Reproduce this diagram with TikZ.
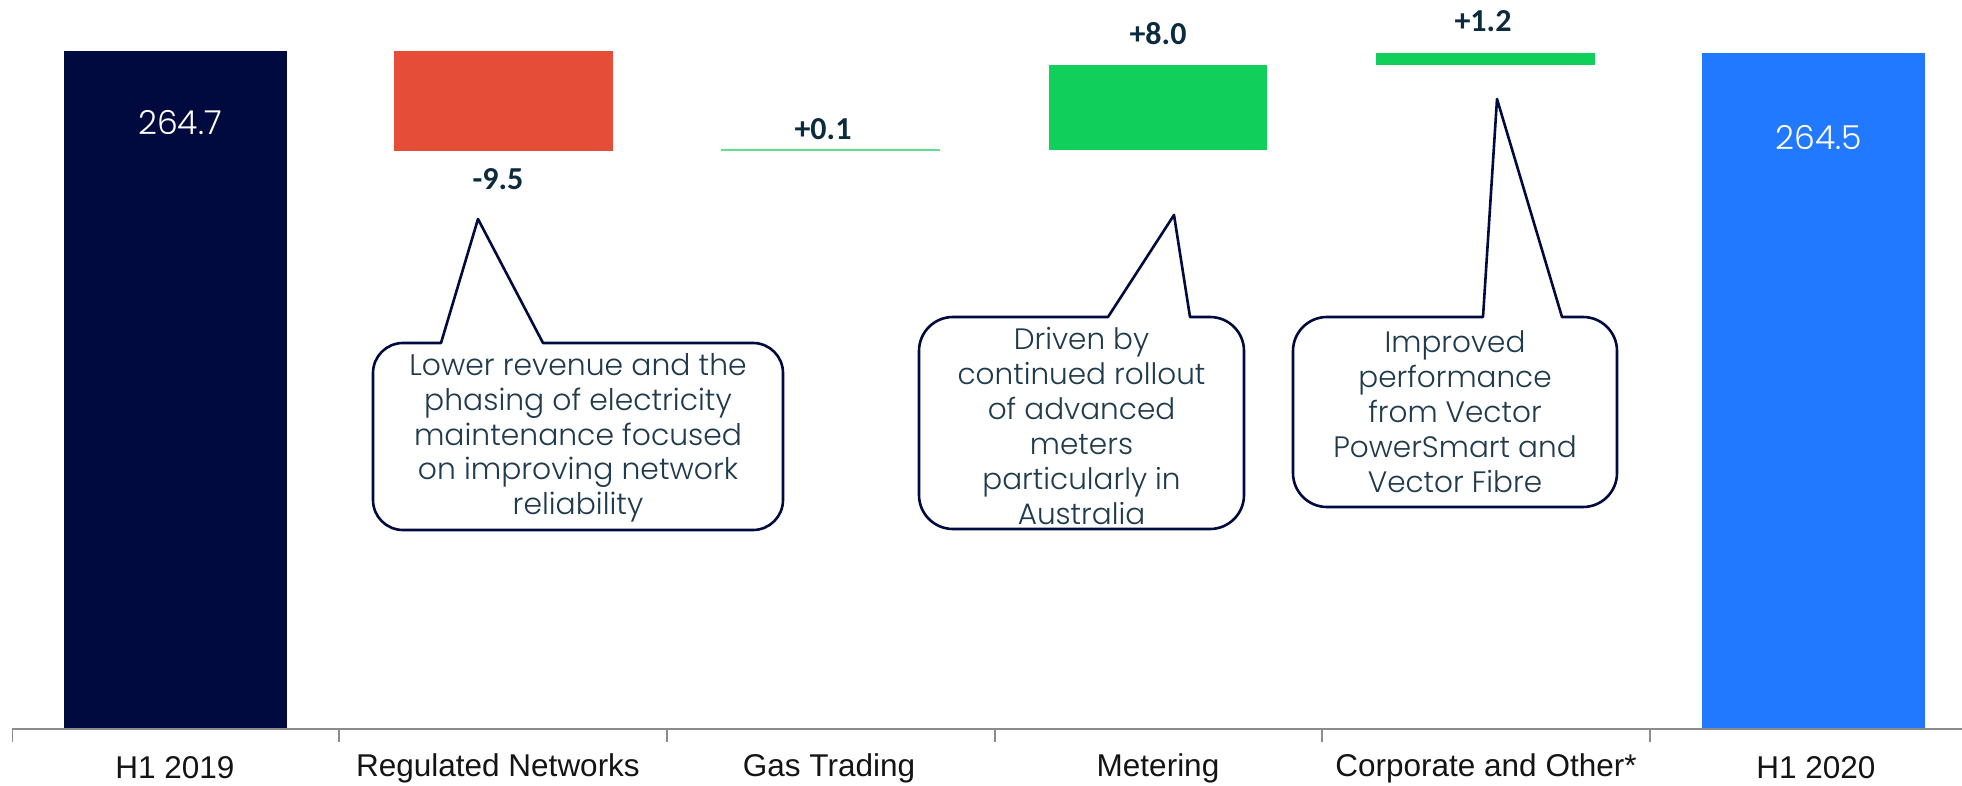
\documentclass[tikz,border=0pt]{standalone}
\usepackage{fontspec}
\setmainfont{Liberation Sans}
\newfontfamily\callfont{Poppins Light}
\newfontfamily\numfont{Carlito}
\definecolor{navy}{HTML}{000A3E}
\definecolor{redbar}{HTML}{E54D39}
\definecolor{greenbar}{HTML}{10D05B}
\definecolor{greenline}{HTML}{5EE08C}
\definecolor{bluebar}{HTML}{2179FF}
\definecolor{numtext}{HTML}{0D2B3E}
\definecolor{calltext}{HTML}{1E3A4C}
\definecolor{axisgray}{HTML}{8C8C8C}
\definecolor{cattext}{HTML}{141414}
\begin{document}
\begin{tikzpicture}[x=1pt,y=-1pt,
  valtext/.style={text=white,font=\callfont\fontsize{33}{36}\selectfont,inner sep=0},
  deltatext/.style={text=numtext,font=\numfont\bfseries\fontsize{32}{34}\selectfont,inner sep=0},
  cattextstyle/.style={text=cattext,font=\fontsize{31.5}{34}\selectfont,inner sep=0},
  calloutline/.style={draw=navy,line width=2.6pt,fill=white,line join=round},
  calltextstyle/.style={text=calltext,align=center,inner sep=0,font=\callfont\fontsize{29.8}{34.8}\selectfont},
  calltextc/.style={text=calltext,align=center,inner sep=0,font=\callfont\fontsize{29.5}{34.9}\selectfont},
  axisline/.style={draw=axisgray,line width=1.8pt},
  tickline/.style={draw=axisgray,line width=1.2pt}]
\useasboundingbox (0,0) rectangle (1962,786);
% bars
\fill[navy] (64,51) rectangle (287,729);
\fill[redbar] (394,51) rectangle (613,151);
\draw[greenline,line width=2pt] (721,150) -- (940,150);
\fill[greenbar] (1049,65) rectangle (1267,150);
\fill[greenbar] (1376,53) rectangle (1595,65);
\fill[bluebar] (1702,53) rectangle (1925,729);
% value labels
\node[valtext] (v1) at (180,123) {264.7};
\node[valtext] (v6) at (1819,138) {264.5};
\node[deltatext] (d2) at (498,179) {-9.5};
\node[deltatext] (d3) at (823,129) {+0.1};
\node[deltatext] (d4) at (1158,34) {+8.0};
\node[deltatext] (d5) at (1483,21) {+1.2};
% axis
\coordinate (axl) at (12,729);
\coordinate (axr) at (1962,729);
\draw[axisline] (axl) -- (axr);
\foreach \tx in {12.5,339,667,995,1322,1650}{
  \draw[tickline] (\tx,729) -- (\tx,742);
}
\node[cattextstyle] (c1) at (175,768) {H1 2019};
\node[cattextstyle] (c2) at (498,768) {Regulated Networks};
\node[cattextstyle] (c3) at (829,768) {Gas Trading};
\node[cattextstyle] (c4) at (1158,768) {Metering};
\node[cattextstyle] (c5) at (1486,768) {Corporate and Other*};
\node[cattextstyle] (c6) at (1816,768) {H1 2020};
% callout 1
\coordinate (a1bl) at (441,343);
\coordinate (a1tip) at (478,219);
\coordinate (a1br) at (543,343);
\draw[calloutline] (a1tip) -- (a1bl) [rounded corners=30pt] -- (373,343) -- (373,530) -- (783,530) -- (783,343) [sharp corners] -- (a1br) -- cycle;
\node[calltextstyle] (t1) at (578,438) {Lower revenue and the\\phasing of electricity\\maintenance focused\\on improving network\\reliability};
% callout 2
\coordinate (a2bl) at (1108,317);
\coordinate (a2tip) at (1174,215);
\coordinate (a2br) at (1190,317);
\draw[calloutline] (a2tip) -- (a2bl) [rounded corners=34pt] -- (919,317) -- (919,529) -- (1244,529) -- (1244,317) [sharp corners] -- (a2br) -- cycle;
\node[calltextc] (t2) at (1081.5,426) {Driven by\\continued rollout\\of advanced\\meters\\particularly in\\Australia};
% callout 3
\coordinate (a3bl) at (1483,317);
\coordinate (a3tip) at (1497,99);
\coordinate (a3br) at (1562,317);
\draw[calloutline] (a3tip) -- (a3bl) [rounded corners=34pt] -- (1293,317) -- (1293,507) -- (1617,507) -- (1617,317) [sharp corners] -- (a3br) -- cycle;
\node[calltextc] (t3) at (1455,412) {Improved\\performance\\from Vector\\PowerSmart and\\Vector Fibre};
\end{tikzpicture}
\end{document}
